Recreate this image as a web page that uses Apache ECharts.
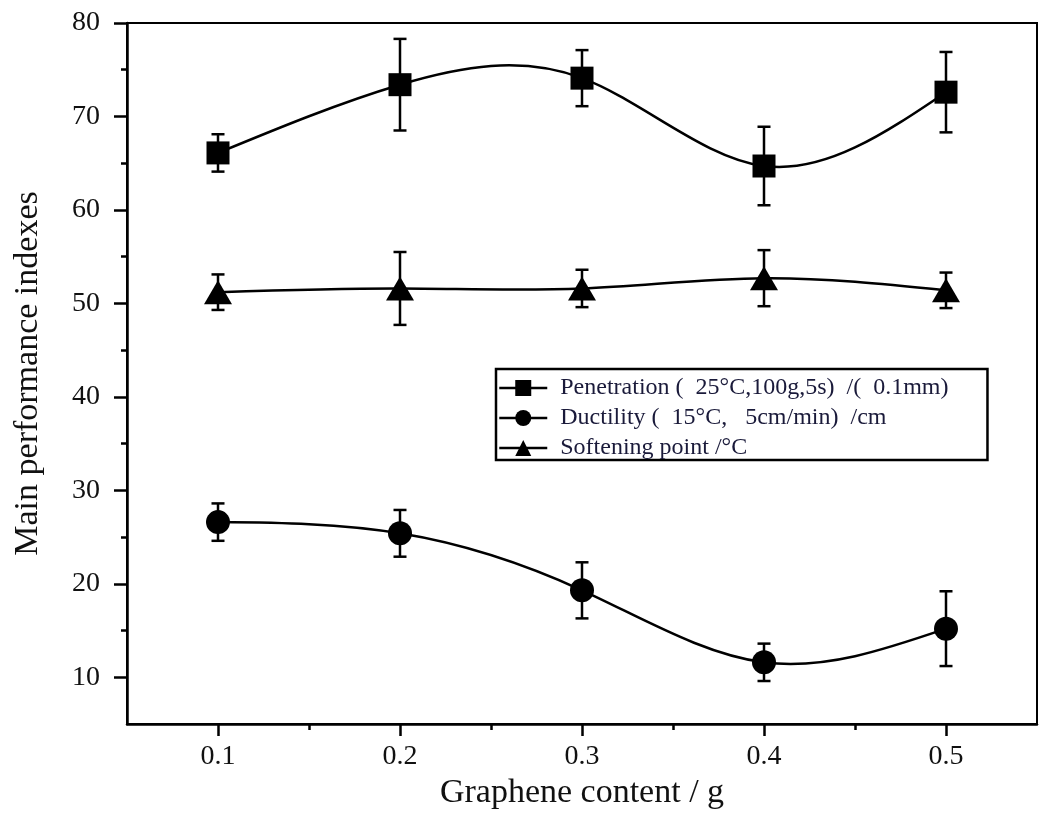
<!DOCTYPE html>
<html>
<head>
<meta charset="utf-8">
<script src="https://cdn.jsdelivr.net/npm/echarts@6/dist/echarts.min.js"></script>
<style>
html,body{margin:0;padding:0;background:#fff;}
#chart{width:1042px;height:833px;}
</style>
</head>
<body>
<div id="chart"></div>
<script>
const xValues = [0.1, 0.2, 0.3, 0.4, 0.5];
const penetration = [66.1, 73.4, 74.1, 64.7, 72.6];
const penetrationErr = [2.0, 4.9, 3.0, 4.2, 4.3];
const ductility = [26.6, 25.4, 19.3, 11.6, 15.2];
const ductilityErr = [2.0, 2.5, 3.0, 2.0, 4.0];
const softening = [51.2, 51.6, 51.6, 52.7, 51.4];
const softeningErr = [1.9, 3.9, 2.0, 3.0, 1.9];
const xTicks = [0.1, 0.2, 0.3, 0.4, 0.5];
const xMinorTicks = [0.15, 0.25, 0.35, 0.45];
const yTicks = [10, 20, 30, 40, 50, 60, 70, 80];
const yMinorTicks = [15, 25, 35, 45, 55, 65, 75];
const seriesNames = [
  'Penetration (  25°C,100g,5s)  /(  0.1mm)',
  'Ductility (  15°C,   5cm/min)  /cm',
  'Softening point /°C'
];

const FONT = 'Liberation Serif';
const chart = echarts.init(document.getElementById('chart'));

function pairs(ys) { return xValues.map((x, i) => [x, ys[i]]); }
function errData(ys, es) { return xValues.map((x, i) => [x, ys[i] - es[i], ys[i] + es[i]]); }

function errorSeries(ys, es) {
  return {
    type: 'custom',
    xAxisIndex: 0, yAxisIndex: 0,
    data: errData(ys, es),
    z: 4,
    silent: true,
    renderItem: function (params, api) {
      const x = api.value(0);
      const lo = api.coord([x, api.value(1)]);
      const hi = api.coord([x, api.value(2)]);
      const cap = 6.5;
      const style = { stroke: '#000', lineWidth: 2.5 };
      return {
        type: 'group',
        children: [
          { type: 'line', shape: { x1: lo[0], y1: lo[1], x2: hi[0], y2: hi[1] }, style: style },
          { type: 'line', shape: { x1: lo[0] - cap, y1: lo[1], x2: lo[0] + cap, y2: lo[1] }, style: style },
          { type: 'line', shape: { x1: hi[0] - cap, y1: hi[1], x2: hi[0] + cap, y2: hi[1] }, style: style }
        ]
      };
    }
  };
}

// Natural cubic spline connecting the data points (drawn in pixel space from api.coord)
function splineSeries(ys) {
  return {
    type: 'custom',
    xAxisIndex: 0, yAxisIndex: 0,
    data: pairs(ys),
    z: 3,
    silent: true,
    renderItem: function (params, api) {
      if (params.dataIndex !== 0) return null;
      const pts = xValues.map((x, i) => api.coord([x, ys[i]]));
      const n = pts.length;
      const h = [];
      for (let i = 0; i < n - 1; i++) h.push(pts[i + 1][0] - pts[i][0]);
      const M = new Array(n).fill(0);
      const a = [], b = [], c = [], d = [];
      for (let i = 1; i < n - 1; i++) {
        a.push(h[i - 1]);
        b.push(2 * (h[i - 1] + h[i]));
        c.push(h[i]);
        d.push(6 * ((pts[i + 1][1] - pts[i][1]) / h[i] - (pts[i][1] - pts[i - 1][1]) / h[i - 1]));
      }
      const m = b.length;
      for (let i = 1; i < m; i++) {
        const w = a[i] / b[i - 1];
        b[i] -= w * c[i - 1];
        d[i] -= w * d[i - 1];
      }
      const sol = new Array(m);
      for (let i = m - 1; i >= 0; i--) {
        sol[i] = (d[i] - (i < m - 1 ? c[i] * sol[i + 1] : 0)) / b[i];
      }
      for (let i = 0; i < m; i++) M[i + 1] = sol[i];
      const children = [];
      for (let i = 0; i < n - 1; i++) {
        const hi = h[i];
        const slope = (pts[i + 1][1] - pts[i][1]) / hi;
        const d0 = slope - hi * (2 * M[i] + M[i + 1]) / 6;
        const d1 = slope + hi * (M[i] + 2 * M[i + 1]) / 6;
        children.push({
          type: 'bezierCurve',
          shape: {
            x1: pts[i][0], y1: pts[i][1],
            x2: pts[i + 1][0], y2: pts[i + 1][1],
            cpx1: pts[i][0] + hi / 3, cpy1: pts[i][1] + d0 * hi / 3,
            cpx2: pts[i + 1][0] - hi / 3, cpy2: pts[i + 1][1] - d1 * hi / 3
          },
          style: { stroke: '#000', lineWidth: 2.5, fill: null }
        });
      }
      return { type: 'group', children: children };
    }
  };
}

function markerSeries(name, ys, symbol, size) {
  return {
    name: name,
    type: 'line',
    xAxisIndex: 0, yAxisIndex: 0,
    data: pairs(ys),
    symbol: symbol,
    symbolSize: size,
    showAllSymbol: true,
    z: 5,
    lineStyle: { color: '#000', width: 0, opacity: 0 },
    itemStyle: { color: '#000', borderWidth: 0 },
    emphasis: { disabled: true }
  };
}

const axisLabelStyle = { fontFamily: FONT, fontSize: 28, color: '#111' };

chart.setOption({
  animation: false,
  backgroundColor: '#fff',
  grid: {
    left: 127, top: 23, right: 5, bottom: 109,
    show: true, borderColor: '#000', borderWidth: 2, backgroundColor: 'transparent'
  },
  legend: {
    orient: 'vertical',
    left: 496, top: 369,
    data: seriesNames,
    itemWidth: 48, itemHeight: 20, itemGap: 6,
    padding: [7, 39, 0, 2],
    borderColor: '#000', borderWidth: 2.5,
    lineStyle: { color: '#000', width: 2.5, opacity: 1 },
    textStyle: { fontFamily: FONT, fontSize: 24, lineHeight: 24, color: '#1a1a3a', padding: [0, 0, 0, 8] },
    selectedMode: false
  },
  xAxis: [
    {
      type: 'value', min: 0.05, max: 0.55,
      name: 'Graphene content / g', nameLocation: 'middle', nameGap: 50,
      nameTextStyle: { fontFamily: FONT, fontSize: 34, color: '#111' },
      axisLine: { show: true, lineStyle: { color: '#000', width: 2.5 } },
      axisTick: { show: true, inside: false, length: 12, customValues: xTicks, lineStyle: { color: '#000', width: 2.5 } },
      axisLabel: { show: true, margin: 19, customValues: xTicks, formatter: v => v.toFixed(1), ...axisLabelStyle },
      splitLine: { show: false }
    },
    {
      type: 'value', min: 0.05, max: 0.55, position: 'bottom',
      axisLine: { show: false },
      axisTick: { show: true, inside: false, length: 6, customValues: xMinorTicks, lineStyle: { color: '#000', width: 2.5 } },
      axisLabel: { show: false },
      splitLine: { show: false }
    }
  ],
  yAxis: [
    {
      type: 'value', min: 5, max: 80,
      name: 'Main performance indexes', nameLocation: 'middle', nameGap: 82, nameRotate: 90,
      nameTextStyle: { fontFamily: FONT, fontSize: 34, color: '#111' },
      axisLine: { show: true, lineStyle: { color: '#000', width: 2.5 } },
      axisTick: { show: true, inside: false, length: 13, customValues: yTicks, lineStyle: { color: '#000', width: 2.5 } },
      axisLabel: { show: true, margin: 27, customValues: yTicks, ...axisLabelStyle },
      splitLine: { show: false }
    },
    {
      type: 'value', min: 5, max: 80, position: 'left',
      axisLine: { show: false },
      axisTick: { show: true, inside: false, length: 6, customValues: yMinorTicks, lineStyle: { color: '#000', width: 2.5 } },
      axisLabel: { show: false },
      splitLine: { show: false }
    }
  ],
  series: [
    splineSeries(penetration),
    splineSeries(ductility),
    splineSeries(softening),
    errorSeries(penetration, penetrationErr),
    errorSeries(ductility, ductilityErr),
    errorSeries(softening, softeningErr),
    markerSeries(seriesNames[0], penetration, 'rect', 23),
    markerSeries(seriesNames[1], ductility, 'circle', 24),
    markerSeries(seriesNames[2], softening, 'triangle', [28, 24])
  ]
});
</script>
</body>
</html>
